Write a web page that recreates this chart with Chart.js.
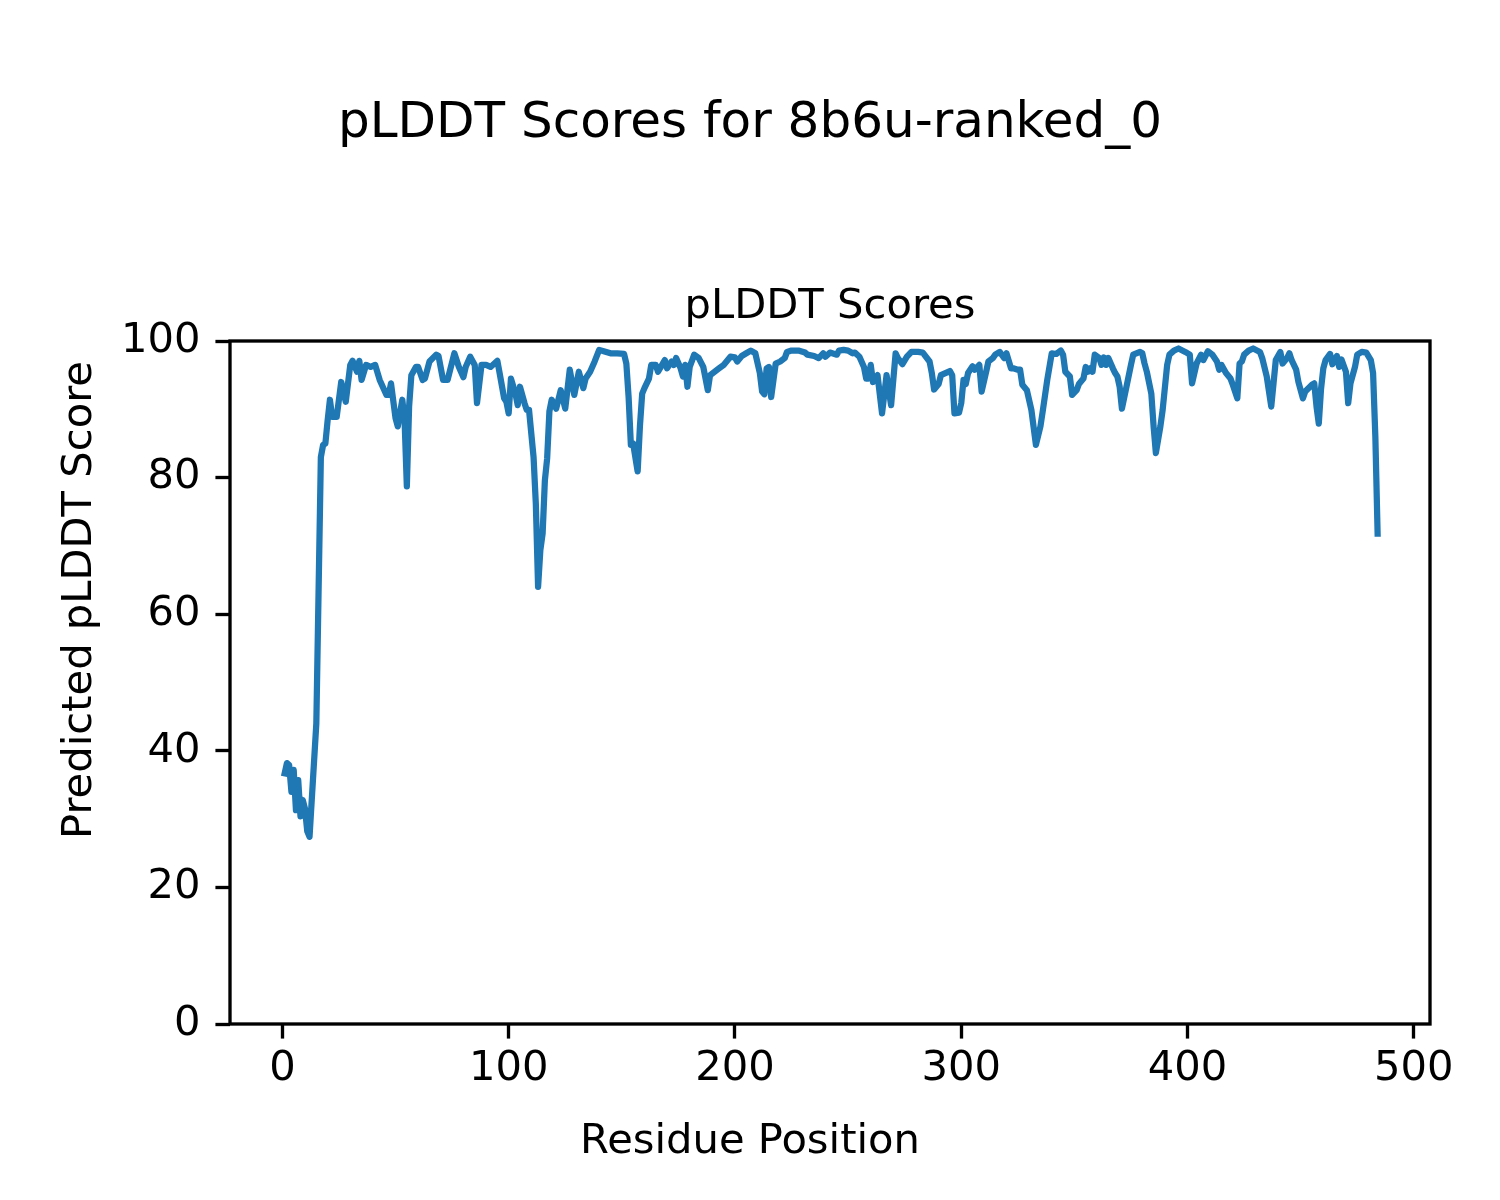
<!DOCTYPE html>
<html>
<head>
<meta charset="utf-8">
<title>pLDDT Scores for 8b6u-ranked_0</title>
<script src="https://cdn.jsdelivr.net/npm/chart.js@4.4.1/dist/chart.umd.min.js"></script>
<style>
  html, body { margin: 0; padding: 0; background: #ffffff; }
  #plddt { display: block; }
</style>
</head>
<body>
<canvas id="plddt" width="1500" height="1200"></canvas>
<script>
// values (residue index -> pLDDT)
const residues = [
  1, 2, 3, 4, 5, 6, 7, 8, 9, 10, 11, 12, 15, 17, 18, 19, 20, 21, 22, 24,
  26, 28, 30, 31, 33, 34, 35, 37, 39, 41, 43, 46, 47, 48, 50, 51, 53, 54, 55, 56,
  57, 59, 60, 62, 63, 65, 68, 69, 71, 73, 76, 78, 80, 81, 83, 85, 86, 88, 90, 92,
  95, 96, 98, 99, 100, 101, 103, 104, 105, 107, 108, 109, 111, 112, 113, 114, 115, 116, 117, 118,
  119, 121, 123, 125, 127, 129, 131, 133, 134, 136, 138, 140, 142, 145, 148, 151, 152, 153, 154, 155,
  157, 158, 159, 160, 162, 163, 165, 166, 169, 170, 172, 173, 174, 176, 177, 178, 179, 180, 182, 184,
  186, 188, 189, 191, 193, 195, 198, 200, 201, 203, 205, 207, 209, 211, 212, 213, 214, 215, 216, 218,
  220, 222, 223, 225, 228, 231, 232, 235, 237, 239, 240, 242, 245, 246, 248, 250, 252, 253, 255, 257,
  258, 259, 260, 261, 263, 265, 267, 269, 271, 272, 274, 276, 278, 281, 283, 286, 287, 288, 290, 291,
  293, 295, 296, 297, 299, 300, 301, 302, 303, 305, 306, 308, 309, 311, 312, 314, 315, 317, 319, 320,
  322, 323, 325, 326, 327, 329, 331, 333, 335, 336, 338, 340, 342, 344, 345, 346, 348, 349, 351, 352,
  354, 355, 356, 357, 358, 359, 361, 362, 363, 364, 365, 367, 368, 369, 370, 371, 373, 375, 376, 379,
  380, 381, 382, 384, 385, 386, 388, 389, 391, 392, 394, 396, 399, 401, 402, 404, 406, 407, 409, 411,
  413, 414, 415, 417, 419, 420, 422, 423, 424, 425, 427, 429, 432, 433, 435, 437, 438, 439, 441, 442,
  444, 445, 446, 448, 449, 451, 452, 455, 456, 457, 458, 459, 460, 461, 463, 464, 466, 467, 468, 470,
  471, 472, 474, 475, 477, 479, 481, 482, 483, 484
];
const plddt = [
  36.7, 38.2, 37.9, 34.0, 37.2, 31.3, 35.7, 30.4, 32.8, 31.5, 28.2, 27.4, 44.0, 83.0, 84.8, 85.0, 88.4, 91.4, 88.9, 88.9,
  94.0, 91.1, 96.5, 97.1, 95.5, 97.1, 94.3, 96.5, 96.2, 96.5, 94.3, 92.1, 92.1, 93.8, 88.7, 87.5, 91.4, 88.4, 78.7, 90.4,
  95.0, 96.2, 96.2, 94.3, 94.5, 97.0, 98.0, 97.8, 94.3, 94.3, 98.2, 96.2, 94.7, 96.2, 97.7, 96.5, 90.9, 96.5, 96.5, 96.2,
  97.1, 95.3, 91.6, 91.1, 89.4, 94.5, 92.3, 90.6, 93.3, 90.9, 89.9, 89.9, 83.0, 76.2, 64.0, 69.4, 71.8, 79.6, 82.8, 89.7,
  91.4, 90.1, 92.8, 90.1, 95.8, 92.1, 95.5, 93.1, 94.5, 95.5, 97.0, 98.7, 98.5, 98.2, 98.2, 98.1, 96.7, 91.8, 84.8, 85.0,
  80.9, 87.5, 92.3, 93.1, 94.5, 96.5, 96.5, 95.5, 97.2, 96.0, 97.0, 96.5, 97.5, 96.0, 94.8, 96.5, 93.3, 96.2, 98.0, 97.5,
  96.2, 92.8, 95.0, 95.5, 96.0, 96.5, 97.7, 97.6, 97.0, 97.8, 98.2, 98.6, 98.2, 95.3, 92.6, 92.2, 96.0, 96.2, 91.8, 96.7,
  97.0, 97.5, 98.4, 98.6, 98.6, 98.3, 98.0, 97.8, 97.5, 98.2, 97.7, 98.3, 98.0, 98.6, 98.7, 98.6, 98.2, 98.3, 97.7, 96.2,
  94.5, 94.5, 96.5, 94.0, 95.0, 89.4, 95.0, 90.6, 98.2, 97.5, 96.6, 97.7, 98.4, 98.4, 98.3, 97.0, 95.3, 92.9, 93.7, 95.0,
  95.3, 95.6, 95.0, 89.4, 89.5, 90.9, 94.3, 93.7, 95.3, 96.3, 95.8, 96.5, 92.6, 95.5, 97.0, 97.5, 98.0, 98.4, 97.5, 98.2,
  96.0, 96.0, 95.8, 95.8, 93.6, 92.8, 89.9, 84.8, 87.5, 89.7, 94.3, 98.2, 98.1, 98.6, 98.0, 95.5, 94.8, 92.1, 92.8, 93.7,
  94.5, 96.2, 95.5, 96.0, 95.5, 98.0, 97.5, 96.5, 97.6, 96.5, 97.5, 96.0, 95.3, 94.8, 93.3, 90.1, 93.3, 96.5, 98.0, 98.4,
  98.2, 96.7, 95.5, 92.3, 87.5, 83.6, 87.5, 89.9, 96.5, 98.0, 98.6, 98.9, 98.4, 98.0, 93.8, 96.7, 98.0, 97.2, 98.5, 98.0,
  97.0, 95.8, 96.5, 95.3, 94.5, 93.6, 91.6, 96.7, 97.0, 98.0, 98.6, 98.9, 98.4, 97.5, 94.8, 90.4, 93.8, 97.2, 98.4, 96.7,
  97.5, 98.2, 97.2, 95.8, 94.0, 91.6, 92.6, 93.6, 93.8, 90.4, 87.9, 93.0, 96.0, 97.2, 98.1, 96.6, 97.8, 96.2, 97.3, 95.5,
  90.9, 93.8, 96.2, 98.0, 98.4, 98.3, 97.2, 95.3, 86.0, 71.8
];
const xTicks = [0, 100, 200, 300, 400, 500];
const yTicks = [0, 20, 40, 60, 80, 100];

const FONT = "'DejaVu Sans', 'Liberation Sans', sans-serif";
const PT = 300 / 72; // figure was saved at 300 dpi

/**
 * 画轴框、标题和轴标签（matplotlib 风格）
 */
const framePlugin = {
  id: "frame",
  afterDraw(chart) {
    const { ctx, chartArea: a } = chart;
    ctx.save();
    ctx.strokeStyle = "#000000";
    ctx.lineWidth = 0.8 * PT;
    ctx.strokeRect(a.left, a.top, a.right - a.left, a.bottom - a.top);

    ctx.fillStyle = "#000000";
    ctx.textAlign = "center";
    ctx.textBaseline = "alphabetic";

    ctx.font = `${12 * PT}px ${FONT}`;
    ctx.fillText("pLDDT Scores for 8b6u-ranked_0", 750, 137);

    ctx.font = `${10 * PT}px ${FONT}`;
    ctx.fillText("pLDDT Scores", (a.left + a.right) / 2, 318);
    ctx.fillText("Residue Position", 750, 1153);

    ctx.translate(91, 600);
    ctx.rotate(-Math.PI / 2);
    ctx.fillText("Predicted pLDDT Score", 0, 0);
    ctx.restore();
  },
};

const tickStyle = {
  display: true,
  drawOnChartArea: false,
  drawTicks: true,
  tickLength: 3.5 * PT,
  tickWidth: 0.8 * PT,
  tickColor: "#000000",
};

new Chart(document.getElementById("plddt"), {
  type: "line",
  data: {
    datasets: [
      {
        label: "pLDDT",
        data: residues.map((r, i) => ({ x: r, y: plddt[i] })),
        borderColor: "#1f77b4",
        borderWidth: 1.5 * PT,
        borderJoinStyle: "round",
        borderCapStyle: "square",
        pointRadius: 0,
        tension: 0,
        fill: false,
      },
    ],
  },
  options: {
    responsive: false,
    animation: false,
    devicePixelRatio: 1,
    layout: { padding: { top: 341, right: 70, left: 0, bottom: 0 } },
    plugins: {
      legend: { display: false },
      title: { display: false },
      tooltip: { enabled: false },
    },
    scales: {
      x: {
        type: "linear",
        min: -23.15,
        max: 507.15,
        afterBuildTicks: (s) => { s.ticks = xTicks.map((v) => ({ value: v })); },
        afterFit: (s) => { s.height = 176; },
        grid: tickStyle,
        border: { display: false },
        ticks: {
          color: "#000000",
          padding: 6,
          maxRotation: 0,
          font: { family: FONT, size: 10 * PT },
        },
      },
      y: {
        type: "linear",
        min: 0,
        max: 100,
        afterBuildTicks: (s) => { s.ticks = yTicks.map((v) => ({ value: v })); },
        afterFit: (s) => { s.width = 230; },
        grid: tickStyle,
        border: { display: false },
        ticks: {
          color: "#000000",
          padding: 15,
          font: { family: FONT, size: 10 * PT },
        },
      },
    },
  },
  plugins: [framePlugin],
});
</script>
</body>
</html>
